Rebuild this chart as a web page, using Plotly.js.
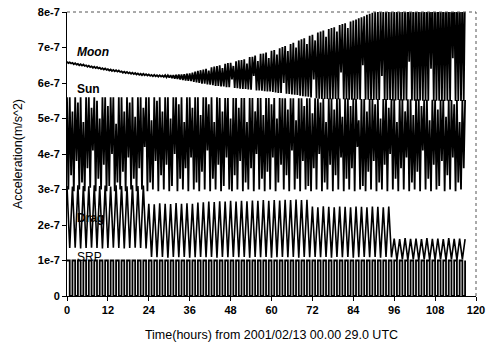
<!DOCTYPE html>
<html>
<head>
<meta charset="utf-8">
<script src="https://cdn.plot.ly/plotly-3.0.1.min.js"></script>
<style>
  html, body { margin: 0; padding: 0; background: #fff; }
  #chart { width: 487px; height: 347px; }
</style>
</head>
<body>
<div id="chart"></div>
<script>
// Sampling: all series start at t = 0 h.
// Sun / Moon: one value every 0.4 h; Drag / SRP: one value every 0.8 h.
const startHour = 0;
const tideStepHours = 0.4;
const orbitStepHours = 0.8;

const xTickVals = [0, 12, 24, 36, 48, 60, 72, 84, 96, 108, 120];
const yTickVals = [0, 1e-7, 2e-7, 3e-7, 4e-7, 5e-7, 6e-7, 7e-7, 8e-7];
const yTickText = ["0", "1e-7", "2e-7", "3e-7", "4e-7", "5e-7", "6e-7", "7e-7", "8e-7"];

const moonAcc = [
6.60e-7,6.56e-7,6.58e-7,6.55e-7,6.57e-7,6.53e-7,6.56e-7,6.52e-7,6.54e-7,6.50e-7,
6.53e-7,6.49e-7,6.52e-7,6.48e-7,6.50e-7,6.46e-7,6.49e-7,6.45e-7,6.47e-7,6.43e-7,
6.46e-7,6.42e-7,6.45e-7,6.41e-7,6.43e-7,6.39e-7,6.42e-7,6.38e-7,6.41e-7,6.37e-7,
6.39e-7,6.35e-7,6.38e-7,6.34e-7,6.37e-7,6.33e-7,6.36e-7,6.32e-7,6.35e-7,6.31e-7,
6.33e-7,6.29e-7,6.32e-7,6.28e-7,6.31e-7,6.27e-7,6.30e-7,6.26e-7,6.29e-7,6.25e-7,
6.28e-7,6.24e-7,6.27e-7,6.23e-7,6.26e-7,6.22e-7,6.26e-7,6.22e-7,6.25e-7,6.21e-7,
6.24e-7,6.20e-7,6.23e-7,6.19e-7,6.23e-7,6.19e-7,6.22e-7,6.18e-7,6.22e-7,6.18e-7,
6.21e-7,6.17e-7,6.22e-7,6.16e-7,6.22e-7,6.15e-7,6.22e-7,6.14e-7,6.22e-7,6.12e-7,
6.23e-7,6.11e-7,6.24e-7,6.10e-7,6.24e-7,6.08e-7,6.25e-7,6.07e-7,6.26e-7,6.06e-7,
6.27e-7,6.05e-7,6.29e-7,6.03e-7,6.32e-7,6.02e-7,6.34e-7,6.00e-7,6.36e-7,5.98e-7,
6.38e-7,5.98e-7,6.40e-7,5.96e-7,6.35e-7,5.95e-7,6.44e-7,5.94e-7,6.46e-7,5.92e-7,
6.48e-7,5.92e-7,6.50e-7,5.90e-7,6.42e-7,5.90e-7,6.54e-7,5.88e-7,6.56e-7,5.88e-7,
6.57e-7,6.10e-7,6.48e-7,5.86e-7,6.61e-7,5.85e-7,6.64e-7,5.84e-7,6.65e-7,5.83e-7,
6.67e-7,5.83e-7,6.55e-7,5.82e-7,6.73e-7,5.81e-7,6.74e-7,6.20e-7,6.77e-7,5.79e-7,
6.62e-7,5.79e-7,6.82e-7,5.78e-7,6.83e-7,5.77e-7,6.86e-7,5.76e-7,6.70e-7,5.76e-7,
6.91e-7,5.75e-7,6.93e-7,5.73e-7,6.80e-7,5.72e-7,6.98e-7,5.72e-7,7.01e-7,6.00e-7,
7.04e-7,5.70e-7,6.90e-7,5.69e-7,7.10e-7,5.68e-7,7.13e-7,5.67e-7,7.00e-7,5.66e-7,
7.20e-7,5.64e-7,7.23e-7,5.63e-7,7.26e-7,5.62e-7,7.10e-7,5.61e-7,7.33e-7,5.59e-7,
7.36e-7,6.10e-7,7.20e-7,5.57e-7,7.42e-7,5.56e-7,7.45e-7,5.55e-7,7.48e-7,5.55e-7,
7.30e-7,5.55e-7,7.52e-7,5.54e-7,7.55e-7,5.54e-7,7.57e-7,5.55e-7,7.45e-7,5.54e-7,
7.63e-7,6.30e-7,7.66e-7,5.54e-7,7.68e-7,5.54e-7,7.55e-7,5.53e-7,7.73e-7,5.53e-7,
7.76e-7,5.53e-7,7.79e-7,5.54e-7,7.82e-7,5.53e-7,7.85e-7,6.50e-7,7.88e-7,5.53e-7,
7.92e-7,5.53e-7,7.95e-7,5.52e-7,7.98e-7,5.52e-7,8.01e-7,5.53e-7,8.04e-7,5.52e-7,
8.07e-7,6.20e-7,8.10e-7,5.52e-7,8.12e-7,5.52e-7,8.15e-7,5.52e-7,8.18e-7,5.51e-7,
8.20e-7,5.51e-7,8.22e-7,5.52e-7,8.25e-7,5.51e-7,8.27e-7,5.51e-7,8.30e-7,5.51e-7,
8.32e-7,6.60e-7,8.34e-7,5.51e-7,8.36e-7,5.50e-7,8.38e-7,5.50e-7,8.40e-7,5.51e-7,
8.42e-7,5.50e-7,8.44e-7,5.50e-7,8.46e-7,5.50e-7,8.48e-7,6.40e-7,8.50e-7,5.50e-7,
8.52e-7,5.50e-7,8.54e-7,5.50e-7,8.56e-7,5.49e-7,8.58e-7,5.49e-7,8.60e-7,5.50e-7,
8.62e-7,5.49e-7,8.64e-7,6.70e-7,8.66e-7,5.49e-7,8.68e-7,5.49e-7,8.70e-7,5.49e-7,
8.72e-7,5.49e-7,8.74e-7
];

const sunAcc = [
5.60e-7,3.00e-7,5.60e-7,3.40e-7,5.20e-7,2.95e-7,5.60e-7,3.80e-7,5.45e-7,3.00e-7,
5.60e-7,3.20e-7,4.90e-7,2.95e-7,5.60e-7,3.60e-7,5.60e-7,3.05e-7,5.30e-7,4.10e-7,
5.60e-7,2.95e-7,5.50e-7,3.30e-7,5.00e-7,3.00e-7,5.60e-7,3.70e-7,5.60e-7,2.95e-7,
5.35e-7,3.10e-7,5.60e-7,4.00e-7,5.60e-7,2.95e-7,4.85e-7,3.20e-7,5.60e-7,3.00e-7,
5.60e-7,3.50e-7,5.20e-7,2.95e-7,5.60e-7,3.90e-7,5.45e-7,3.00e-7,5.60e-7,3.30e-7,
5.05e-7,2.95e-7,5.60e-7,3.60e-7,5.60e-7,3.00e-7,5.30e-7,4.20e-7,5.60e-7,2.95e-7,
5.60e-7,3.20e-7,4.95e-7,3.00e-7,5.60e-7,3.80e-7,5.50e-7,2.95e-7,5.60e-7,3.40e-7,
5.20e-7,3.00e-7,5.60e-7,3.70e-7,5.60e-7,2.95e-7,5.00e-7,3.10e-7,5.60e-7,4.00e-7,
5.60e-7,2.95e-7,5.40e-7,3.30e-7,5.60e-7,3.00e-7,4.90e-7,3.60e-7,5.60e-7,2.95e-7,
5.60e-7,3.90e-7,5.30e-7,3.00e-7,5.60e-7,3.20e-7,5.60e-7,2.95e-7,5.10e-7,3.50e-7,
5.60e-7,3.00e-7,5.60e-7,4.10e-7,5.40e-7,2.95e-7,5.60e-7,3.30e-7,4.90e-7,3.00e-7,
5.60e-7,3.70e-7,5.58e-7,2.95e-7,5.20e-7,3.10e-7,5.58e-7,3.90e-7,5.58e-7,3.00e-7,
5.00e-7,2.95e-7,5.58e-7,3.40e-7,5.58e-7,3.00e-7,5.30e-7,3.80e-7,5.58e-7,2.95e-7,
5.58e-7,3.20e-7,4.90e-7,3.00e-7,5.58e-7,3.60e-7,5.58e-7,2.95e-7,5.20e-7,4.00e-7,
5.58e-7,3.00e-7,5.58e-7,3.30e-7,5.10e-7,2.95e-7,5.58e-7,3.50e-7,5.58e-7,3.00e-7,
5.40e-7,3.90e-7,5.58e-7,2.95e-7,5.00e-7,3.20e-7,5.58e-7,3.70e-7,5.57e-7,3.00e-7,
5.57e-7,3.40e-7,5.25e-7,2.95e-7,5.57e-7,4.10e-7,5.57e-7,3.00e-7,4.95e-7,3.30e-7,
5.57e-7,2.95e-7,5.57e-7,3.80e-7,5.35e-7,3.00e-7,5.57e-7,3.10e-7,5.57e-7,2.95e-7,
5.15e-7,3.60e-7,5.57e-7,3.00e-7,5.56e-7,4.00e-7,5.45e-7,2.95e-7,5.56e-7,3.20e-7,
4.90e-7,3.00e-7,5.56e-7,3.70e-7,5.56e-7,2.95e-7,5.25e-7,3.40e-7,5.56e-7,3.00e-7,
5.56e-7,3.90e-7,5.05e-7,2.95e-7,5.56e-7,3.30e-7,5.56e-7,3.00e-7,5.35e-7,3.60e-7,
5.56e-7,2.95e-7,5.55e-7,4.20e-7,4.95e-7,3.00e-7,5.55e-7,3.10e-7,5.55e-7,2.95e-7,
5.20e-7,3.50e-7,5.55e-7,3.00e-7,5.55e-7,3.80e-7,5.40e-7,2.95e-7,5.55e-7,3.20e-7,
5.00e-7,3.00e-7,5.55e-7,3.70e-7,5.55e-7,2.95e-7,5.30e-7,4.00e-7,5.55e-7,3.00e-7,
5.54e-7,3.30e-7,4.90e-7,2.95e-7,5.54e-7,3.60e-7,5.54e-7,3.00e-7,5.20e-7,3.90e-7,
5.54e-7,2.95e-7,5.54e-7,3.20e-7,5.10e-7,3.00e-7,5.54e-7,3.50e-7,5.54e-7,2.95e-7,
5.35e-7,4.10e-7,5.53e-7,3.00e-7,5.53e-7,3.30e-7,4.95e-7,2.95e-7,5.53e-7,3.70e-7,
5.53e-7,3.00e-7,5.25e-7,3.10e-7,5.53e-7,3.80e-7,5.53e-7,2.95e-7,5.05e-7,3.40e-7,
5.53e-7,3.00e-7,5.52e-7,3.90e-7,5.40e-7,2.95e-7,5.52e-7,3.20e-7,4.90e-7,3.00e-7,
5.52e-7,3.60e-7,5.52e-7
];

const dragAcc = [
3.10e-7,1.35e-7,3.08e-7,1.36e-7,3.12e-7,1.34e-7,3.10e-7,1.35e-7,3.09e-7,1.36e-7,
3.12e-7,1.35e-7,3.10e-7,1.34e-7,3.11e-7,1.35e-7,3.08e-7,1.36e-7,3.12e-7,1.35e-7,
3.10e-7,1.34e-7,3.09e-7,1.35e-7,3.12e-7,1.36e-7,3.10e-7,1.35e-7,3.11e-7,1.34e-7,
2.60e-7,1.10e-7,2.58e-7,1.09e-7,2.61e-7,1.10e-7,2.60e-7,1.08e-7,2.59e-7,1.10e-7,
2.62e-7,1.09e-7,2.60e-7,1.10e-7,2.61e-7,1.08e-7,2.60e-7,1.09e-7,2.63e-7,1.10e-7,
2.64e-7,1.09e-7,2.66e-7,1.10e-7,2.65e-7,1.08e-7,2.67e-7,1.10e-7,2.66e-7,1.09e-7,
2.68e-7,1.10e-7,2.66e-7,1.09e-7,2.68e-7,1.10e-7,2.67e-7,1.08e-7,2.69e-7,1.10e-7,
2.68e-7,1.09e-7,2.70e-7,1.10e-7,2.68e-7,1.08e-7,2.70e-7,1.09e-7,2.69e-7,1.10e-7,
2.71e-7,1.09e-7,2.70e-7,1.10e-7,2.72e-7,1.08e-7,2.70e-7,1.10e-7,2.71e-7,1.09e-7,
2.52e-7,1.10e-7,2.50e-7,1.09e-7,2.53e-7,1.10e-7,2.51e-7,1.08e-7,2.50e-7,1.10e-7,
2.52e-7,1.09e-7,2.51e-7,1.10e-7,2.50e-7,1.08e-7,2.52e-7,1.09e-7,2.51e-7,1.10e-7,
2.50e-7,1.09e-7,2.52e-7,1.10e-7,2.51e-7,1.08e-7,2.50e-7,1.10e-7,2.52e-7,1.09e-7,
1.62e-7,1.02e-7,1.60e-7,1.03e-7,1.63e-7,1.02e-7,1.61e-7,1.03e-7,1.62e-7,1.02e-7,
1.60e-7,1.03e-7,1.63e-7,1.02e-7,1.61e-7,1.02e-7,1.62e-7,1.03e-7,1.60e-7,1.02e-7,
1.63e-7,1.03e-7,1.61e-7,1.02e-7,1.62e-7,1.03e-7,1.60e-7
];

const srpAcc = [
1e-7,0,1e-7,0,1e-7,0,1e-7,0,1e-7,0,1e-7,0,1e-7,0,1e-7,0,1e-7,0,1e-7,0,
1e-7,0,1e-7,0,1e-7,0,1e-7,0,1e-7,0,1e-7,0,1e-7,0,1e-7,0,1e-7,0,1e-7,0,
1e-7,0,1e-7,0,1e-7,0,1e-7,0,1e-7,0,1e-7,0,1e-7,0,1e-7,0,1e-7,0,1e-7,0,
1e-7,0,1e-7,0,1e-7,0,1e-7,0,1e-7,0,1e-7,0,1e-7,0,1e-7,0,1e-7,0,1e-7,0,
1e-7,0,1e-7,0,1e-7,0,1e-7,0,1e-7,0,1e-7,0,1e-7,0,1e-7,0,1e-7,0,1e-7,0,
1e-7,0,1e-7,0,1e-7,0,1e-7,0,1e-7,0,1e-7,0,1e-7,0,1e-7,0,1e-7,0,1e-7,0,
1e-7,0,1e-7,0,1e-7,0,1e-7,0,1e-7,0,1e-7,0,1e-7,0,1e-7,0,1e-7,0,1e-7,0,
1e-7,0,1e-7,0,1e-7,0,1e-7
];

// Series labels: [text, hour, acceleration]
const seriesLabels = [
  ["<b><i>Moon</i></b>", 2.4, 6.87e-7],
  ["<b>Sun</b>", 2.4, 5.83e-7],
  ["<b>Drag</b>", 2.4, 2.2e-7],
  ["SRP", 2.4, 1.1e-7]
];

const ink = "#000";
function lineTrace(y, step, width, shape) {
  return {
    type: "scatter", mode: "lines", y: y, x0: startHour, dx: step,
    line: { color: ink, width: width, shape: shape || "linear" },
    hoverinfo: "skip", showlegend: false
  };
}

const data = [
  lineTrace(srpAcc, orbitStepHours, 1.8, "hv"),
  lineTrace(dragAcc, orbitStepHours, 1.6),
  lineTrace(sunAcc, tideStepHours, 1.8),
  lineTrace(moonAcc, tideStepHours, 1.8)
];

const font = "Liberation Sans, Arial, sans-serif";
const layout = {
  width: 487, height: 347,
  margin: { l: 67, r: 11, t: 12, b: 51 },
  paper_bgcolor: "#fff", plot_bgcolor: "#fff",
  font: { family: font, color: ink, size: 11 },
  xaxis: {
    range: [0, 120], tickvals: xTickVals, ticktext: xTickVals.map(v => "<b>" + v + "</b>"),
    showgrid: false, zeroline: false, showline: true, linecolor: ink, linewidth: 1,
    ticks: "outside", ticklen: 4, tickcolor: ink,
    tickfont: { size: 11, family: font, color: ink },
    title: { text: "Time(hours) from 2001/02/13 00.00 29.0 UTC", font: { size: 12.5, family: font, color: ink }, standoff: 15 }
  },
  yaxis: {
    range: [0, 8e-7], tickvals: yTickVals, ticktext: yTickText.map(t => "<b>" + t + "</b>"),
    showgrid: false, zeroline: false, showline: true, linecolor: ink, linewidth: 1,
    ticks: "outside", ticklen: 4, tickcolor: ink,
    tickfont: { size: 11, family: font, color: ink },
    title: { text: "Acceleration(m/s^2)", font: { size: 12.5, family: font, color: ink }, standoff: 12 }
  },
  shapes: [
    { type: "line", xref: "paper", yref: "paper", x0: 0, x1: 1, y0: 1, y1: 1, line: { color: "#555", width: 1, dash: "dot" } },
    { type: "line", xref: "paper", yref: "paper", x0: 1, x1: 1, y0: 0, y1: 1, line: { color: "#555", width: 1, dash: "dot" } }
  ],
  annotations: seriesLabels.map(l => ({
    text: l[0], x: l[1], y: l[2], xref: "x", yref: "y",
    xanchor: "left", yanchor: "middle", showarrow: false,
    font: { size: 12, family: font, color: ink }
  }))
};

Plotly.newPlot("chart", data, layout, { staticPlot: true, displayModeBar: false });
</script>
</body>
</html>
